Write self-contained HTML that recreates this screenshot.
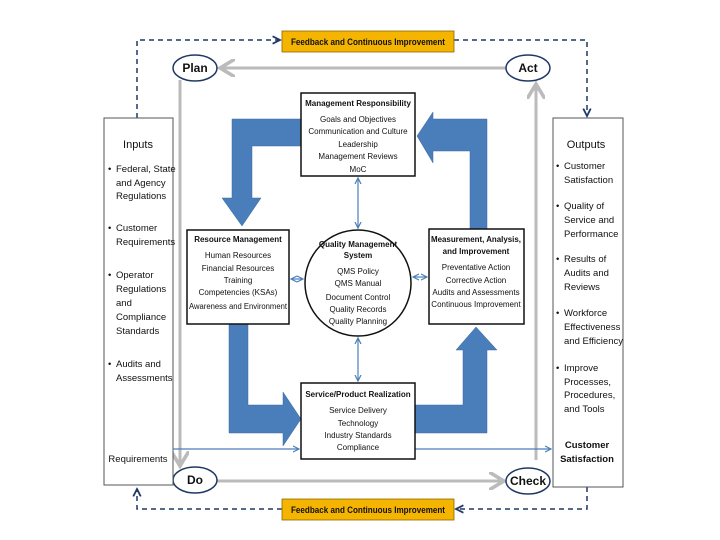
<!DOCTYPE html>
<html><head><meta charset="utf-8"><style>
body{margin:0;background:#fff}
svg{display:block}
text{font-family:"Liberation Sans",sans-serif;fill:#111}
</style></head><body>
<svg width="720" height="540" viewBox="0 0 720 540" xmlns="http://www.w3.org/2000/svg">
<defs>
<marker id="ag" markerWidth="6" markerHeight="6" refX="5" refY="3" orient="auto"><path d="M0,0 L5,3 L0,6" fill="none" stroke="#bbb" stroke-width="1.2"/></marker>
<marker id="ab" markerWidth="6" markerHeight="6" refX="5" refY="3" orient="auto-start-reverse"><path d="M0,0.5 L5,3 L0,5.5" fill="none" stroke="#4a7ebb" stroke-width="1"/></marker>
<marker id="ad" markerWidth="6" markerHeight="6" refX="5" refY="3" orient="auto"><path d="M0,0.5 L5,3 L0,5.5" fill="none" stroke="#1f3864" stroke-width="1.2"/></marker>
</defs>
<g fill="none" stroke="#1f3864" stroke-width="1.5" stroke-dasharray="5,4">
<path d="M137,118 V40 H280" marker-end="url(#ad)"/>
<path d="M454,40 H587 V116" marker-end="url(#ad)"/>
<path d="M587,487 V509 H456" marker-end="url(#ad)"/>
<path d="M282,509 H137 V489" marker-end="url(#ad)"/>
</g>
<rect x="282" y="31" width="172" height="21" fill="#f5b400" stroke="#8a6a00" stroke-width="0.8"/>
<text x="291" y="45" font-size="9" font-weight="bold" textLength="154" lengthAdjust="spacingAndGlyphs">Feedback and Continuous Improvement</text>
<rect x="282" y="499" width="172" height="21" fill="#f5b400" stroke="#8a6a00" stroke-width="0.8"/>
<text x="291" y="513" font-size="9" font-weight="bold" textLength="154" lengthAdjust="spacingAndGlyphs">Feedback and Continuous Improvement</text>
<g stroke="#bbb" stroke-width="3" fill="none">
<path d="M506,68 H220" marker-end="url(#ag)"/>
<path d="M180,80 V466" marker-end="url(#ag)"/>
<path d="M217,481 H504" marker-end="url(#ag)"/>
<path d="M536,460 V84" marker-end="url(#ag)"/>
</g>
<g fill="#fff" stroke="#1f3864" stroke-width="1.5">
<ellipse cx="195" cy="68" rx="22" ry="13"/><ellipse cx="528" cy="68" rx="22" ry="13"/>
<ellipse cx="195" cy="480" rx="22" ry="13"/><ellipse cx="528" cy="481" rx="22" ry="13"/>
</g>
<g font-size="12" font-weight="bold" text-anchor="middle">
<text x="195" y="72">Plan</text><text x="528" y="72">Act</text>
<text x="195" y="484">Do</text><text x="528" y="485">Check</text>
</g>
<g fill="#4a7ebb" stroke="#3a6aa0" stroke-width="0.5">
<path d="M301,119 H232 V198 H222 L242,226 L261,198 H252 V146 H301 Z"/>
<path d="M470,229 V151 H433 V163 L417,136 L433,112 V119 H487 V229 Z"/>
<path d="M229,324 V433 H283 V446 L301,419 L283,392 V405 H248 V324 Z"/>
<path d="M415,405 H463 V350 H456 L476,327 L497,350 H487 V433 H415 Z"/>
</g>
<rect x="104" y="118" width="69" height="367" fill="#fff" stroke="#555" stroke-width="1"/>
<rect x="553" y="118" width="70" height="369" fill="#fff" stroke="#555" stroke-width="1"/>
<g font-size="9.5">
<text x="138" y="148" text-anchor="middle" font-size="11">Inputs</text>
<text x="108" y="172">•</text><text x="116" y="172">Federal, State</text><text x="116" y="186">and Agency</text><text x="116" y="199">Regulations</text>
<text x="108" y="231">•</text><text x="116" y="231">Customer</text><text x="116" y="245">Requirements</text>
<text x="108" y="278">•</text><text x="116" y="278">Operator</text><text x="116" y="292">Regulations</text><text x="116" y="306">and</text><text x="116" y="320">Compliance</text><text x="116" y="334">Standards</text>
<text x="108" y="367">•</text><text x="116" y="367">Audits and</text><text x="116" y="381">Assessments</text>
<text x="138" y="462" text-anchor="middle">Requirements</text>
<text x="586" y="148" text-anchor="middle" font-size="11">Outputs</text>
<text x="556" y="169">•</text><text x="564" y="169">Customer</text><text x="564" y="183">Satisfaction</text>
<text x="556" y="209">•</text><text x="564" y="209">Quality of</text><text x="564" y="223">Service and</text><text x="564" y="237">Performance</text>
<text x="556" y="262">•</text><text x="564" y="262">Results of</text><text x="564" y="276">Audits and</text><text x="564" y="290">Reviews</text>
<text x="556" y="316">•</text><text x="564" y="316">Workforce</text><text x="564" y="330">Effectiveness</text><text x="564" y="344">and Efficiency</text>
<text x="556" y="371">•</text><text x="564" y="371">Improve</text><text x="564" y="385">Processes,</text><text x="564" y="398">Procedures,</text><text x="564" y="412">and Tools</text>
<text x="587" y="448" text-anchor="middle" font-weight="bold">Customer</text><text x="587" y="462" text-anchor="middle" font-weight="bold">Satisfaction</text>
</g>
<g stroke="#4a7ebb" stroke-width="1.2" fill="none">
<path d="M173,449 H299" marker-end="url(#ab)"/>
<path d="M415,449 H551" marker-end="url(#ab)"/>
<path d="M358,178 V228" marker-start="url(#ab)" marker-end="url(#ab)"/>
<path d="M358,338 V381" marker-start="url(#ab)" marker-end="url(#ab)"/>
<path d="M291,279 H303" marker-start="url(#ab)" marker-end="url(#ab)"/>
<path d="M413,277 H427" marker-start="url(#ab)" marker-end="url(#ab)"/>
</g>
<g fill="#fff" stroke="#111" stroke-width="1.5">
<rect x="301" y="93" width="114" height="83"/>
<rect x="187" y="230" width="102" height="94"/>
<rect x="429" y="229" width="95" height="95"/>
<rect x="301" y="383" width="114" height="76"/>
<circle cx="358" cy="283" r="53"/>
</g>
<g font-size="8" text-anchor="middle">
<text x="358" y="106" font-weight="bold">Management Responsibility</text>
<text x="358" y="122">Goals and Objectives</text><text x="358" y="134">Communication and Culture</text><text x="358" y="147">Leadership</text><text x="358" y="159">Management Reviews</text><text x="358" y="172">MoC</text>
<text x="238" y="242" font-weight="bold">Resource Management</text>
<text x="238" y="258">Human Resources</text><text x="238" y="271">Financial Resources</text><text x="238" y="283">Training</text><text x="238" y="295">Competencies (KSAs)</text><text x="238" y="309" textLength="98" lengthAdjust="spacingAndGlyphs">Awareness and Environment</text>
<text x="476" y="242" font-weight="bold" textLength="90" lengthAdjust="spacingAndGlyphs">Measurement, Analysis,</text><text x="476" y="254" font-weight="bold">and Improvement</text>
<text x="476" y="270">Preventative Action</text><text x="476" y="283">Corrective Action</text><text x="476" y="295">Audits and Assessments</text><text x="476" y="307">Continuous Improvement</text>
<text x="358" y="247" font-weight="bold">Quality Management</text><text x="358" y="258" font-weight="bold">System</text>
<text x="358" y="274">QMS Policy</text><text x="358" y="286">QMS Manual</text><text x="358" y="300">Document Control</text><text x="358" y="312">Quality Records</text><text x="358" y="324">Quality Planning</text>
<text x="358" y="397" font-weight="bold">Service/Product Realization</text>
<text x="358" y="413">Service Delivery</text><text x="358" y="426">Technology</text><text x="358" y="438">Industry Standards</text><text x="358" y="450">Compliance</text>
</g>
</svg>
</body></html>
